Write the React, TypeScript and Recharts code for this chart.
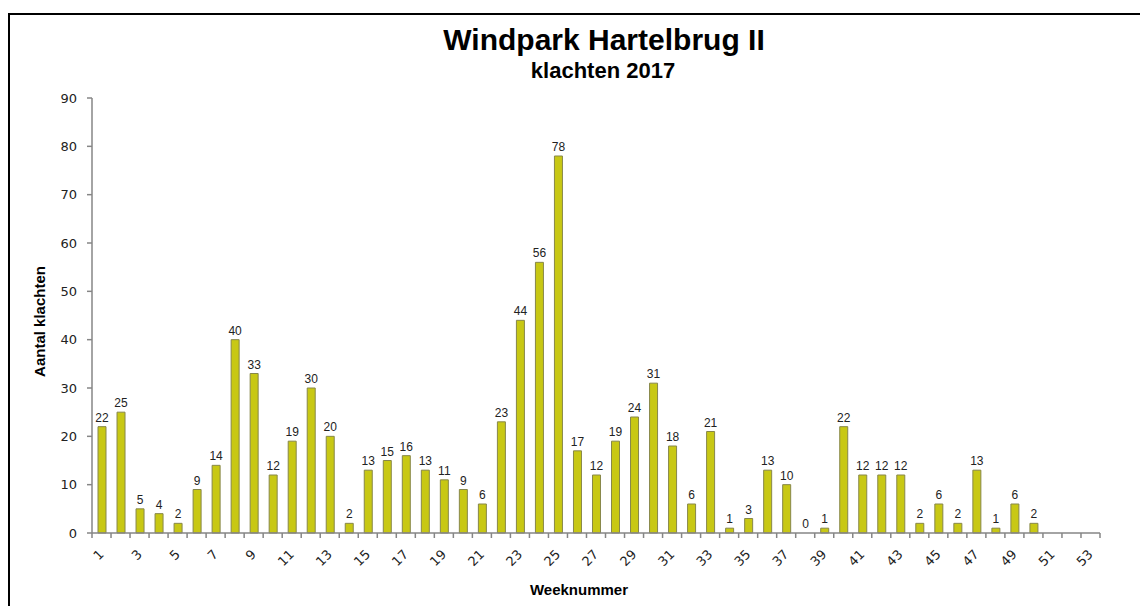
import React from "react";
import { BarChart, Bar, XAxis, YAxis, LabelList, Rectangle } from "recharts";

// Weekly complaint counts, 2017 (weeks 51-53 have no data)
const weeks = Array.from({ length: 53 }, (_, i) => i + 1);
const klachten: (number | null)[] = [
  22, 25, 5, 4, 2, 9, 14, 40, 33, 12,
  19, 30, 20, 2, 13, 15, 16, 13, 11, 9,
  6, 23, 44, 56, 78, 17, 12, 19, 24, 31,
  18, 6, 21, 1, 3, 13, 10, 0, 1, 22,
  12, 12, 12, 2, 6, 2, 13, 1, 6, 2,
  null, null, null,
];
const yTicks = [0, 10, 20, 30, 40, 50, 60, 70, 80, 90];

const chartData = weeks.map((week, i) => ({ week, klachten: klachten[i] }));

const W = 1140;
const H = 606;
const margin = { top: 98, right: 40, bottom: 11, left: 35 };
const yAxisWidth = 57;
const bandWidth = (W - margin.left - margin.right - yAxisWidth) / weeks.length;

const AXIS_COLOR = "#868686";
const FONT = "'Liberation Sans', Arial, sans-serif";

// Excel style: tick marks between categories, every other label rotated
const WeekTick = (props: any) => {
  const { x, y, payload, index } = props;
  const right = x + bandWidth / 2;
  const left = x - bandWidth / 2;
  const showLabel = payload.value % 2 === 1;
  return (
    <g>
      {index === 0 && (
        <line x1={left} x2={left} y1={y} y2={y + 5} stroke={AXIS_COLOR} strokeWidth={1.5} />
      )}
      <line x1={right} x2={right} y1={y} y2={y + 5} stroke={AXIS_COLOR} strokeWidth={1.5} />
      {showLabel && (
        <text
          x={x}
          y={y + 19}
          dy="0.35em"
          textAnchor="end"
          transform={`rotate(-45 ${x} ${y + 19})`}
          fontSize={13}
          fontFamily="'DejaVu Sans', Verdana, sans-serif"
          fill="#222"
        >
          {payload.value}
        </text>
      )}
    </g>
  );
};

// zero weeks keep their "0" label but get no visible bar
const BarShape = (props: any) => {
  if (!props.value) return <g />;
  return <Rectangle {...props} />;
};

const YLabel = (props: any) => {
  const { viewBox } = props;
  const cx = viewBox.x + 4;
  const cy = viewBox.y + viewBox.height / 2 + 6;
  return (
    <text
      x={cx}
      y={cy}
      transform={`rotate(-90 ${cx} ${cy})`}
      textAnchor="middle"
      dominantBaseline="central"
      fontSize={15}
      fontWeight="bold"
      fontFamily={FONT}
      fill="#000"
    >
      Aantal klachten
    </text>
  );
};

const XLabel = (props: any) => {
  const { viewBox } = props;
  const cx = viewBox.x + viewBox.width / 2 - 17;
  const cy = viewBox.y + 56;
  return (
    <text
      x={cx}
      y={cy}
      textAnchor="middle"
      dominantBaseline="central"
      fontSize={15}
      fontWeight="bold"
      fontFamily={FONT}
      fill="#000"
    >
      Weeknummer
    </text>
  );
};

export default function App() {
  return (
    <div
      style={{
        position: "absolute",
        left: 0,
        top: 0,
        width: W,
        height: H,
        overflow: "hidden",
        background: "#fff",
        fontFamily: FONT,
      }}
    >
      {/* chart frame, runs off the right and bottom edges */}
      <div
        style={{
          position: "absolute",
          left: 8,
          top: 13,
          width: W + 100,
          height: H + 100,
          borderLeft: "2px solid #000",
          borderTop: "2px solid #000",
        }}
      />
      <div
        style={{
          position: "absolute",
          left: 404,
          top: 25,
          width: 400,
          textAlign: "center",
          fontSize: 30,
          lineHeight: 1,
          fontWeight: "bold",
          color: "#000",
          whiteSpace: "nowrap",
        }}
      >
        Windpark Hartelbrug II
      </div>
      <div
        style={{
          position: "absolute",
          left: 403,
          top: 60,
          width: 400,
          textAlign: "center",
          fontSize: 22,
          lineHeight: 1,
          fontWeight: "bold",
          color: "#000",
          whiteSpace: "nowrap",
        }}
      >
        klachten 2017
      </div>
      <div style={{ position: "absolute", left: 0, top: 0 }}>
        <BarChart width={W} height={H} data={chartData} margin={margin}>
          <XAxis
            dataKey="week"
            interval={0}
            tick={<WeekTick />}
            tickLine={false}
            tickSize={0}
            tickMargin={0}
            height={62}
            axisLine={{ stroke: AXIS_COLOR, strokeWidth: 1.5 }}
            label={<XLabel />}
          />
          <YAxis
            width={yAxisWidth}
            domain={[0, 90]}
            ticks={yTicks}
            interval={0}
            tickSize={5}
            tickMargin={10}
            tickLine={{ stroke: AXIS_COLOR, strokeWidth: 1.5 }}
            axisLine={{ stroke: AXIS_COLOR, strokeWidth: 1.5 }}
            tick={{ fontSize: 13, fill: "#222", fontFamily: "'DejaVu Sans', Verdana, sans-serif" }}
            label={<YLabel />}
          />
          <Bar
            dataKey="klachten"
            barSize={8}
            minPointSize={0.01}
            shape={<BarShape />}
            fill="#c8c814"
            stroke="#87874a"
            strokeWidth={1}
            isAnimationActive={false}
          >
            <LabelList
              dataKey="klachten"
              position="top"
              offset={5}
              fontSize={12}
              fill="#222"
              fontFamily={FONT}
            />
          </Bar>
        </BarChart>
      </div>
    </div>
  );
}
